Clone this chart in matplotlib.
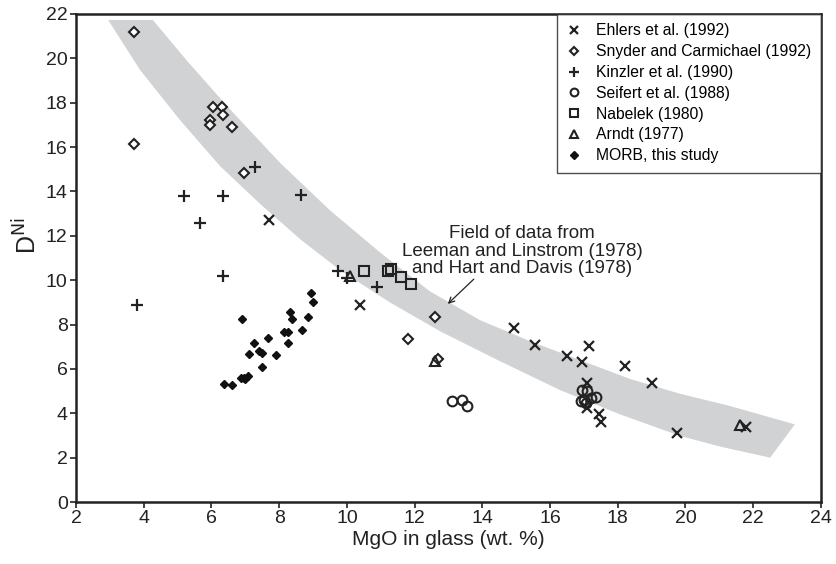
import matplotlib
matplotlib.use("Agg")
import matplotlib.pyplot as plt
from matplotlib.patches import Polygon

plt.rcParams['font.family'] = ['Liberation Sans', 'DejaVu Sans']

# Ehlers et al. (1992)
ehlers_x = [7.7, 10.4, 14.95, 15.55, 16.5, 17.15, 16.95, 17.1, 17.1, 17.45, 17.5, 18.2, 19.0, 19.75, 21.8]
ehlers_y = [12.7, 8.9, 7.85, 7.1, 6.6, 7.05, 6.3, 5.35, 4.25, 3.95, 3.6, 6.15, 5.35, 3.1, 3.4]

# Snyder and Carmichael (1992)
snyder_x = [3.7, 3.7, 6.05, 6.3, 6.35, 5.95, 5.95, 6.6, 6.95, 12.6, 11.8, 12.7]
snyder_y = [21.2, 16.15, 17.8, 17.8, 17.45, 17.2, 17.0, 16.9, 14.85, 8.35, 7.35, 6.45]

# Kinzler et al. (1990)
kinzler_x = [3.8, 5.2, 5.65, 6.35, 6.35, 7.3, 8.65, 9.75, 10.0, 10.9]
kinzler_y = [8.9, 13.8, 12.6, 13.8, 10.2, 15.1, 13.85, 10.4, 10.1, 9.7]

# Seifert et al. (1988)
seifert_x = [13.1, 13.4, 13.55, 16.9, 17.0, 16.95, 17.1, 17.2, 17.35, 17.05]
seifert_y = [4.55, 4.6, 4.35, 4.55, 4.6, 5.05, 5.0, 4.7, 4.75, 4.45]

# Nabelek (1980)
nabelek_x = [10.5, 11.2, 11.3, 11.6, 11.9]
nabelek_y = [10.4, 10.4, 10.5, 10.15, 9.85]

# Arndt (1977)
arndt_x = [10.1, 12.6, 21.6]
arndt_y = [10.2, 6.35, 3.45]

# MORB, this study
morb_x = [6.37, 6.6, 6.89, 6.86, 6.96, 7.07, 7.0, 7.12, 7.26, 7.41, 7.5, 7.49, 7.66,
          7.91, 8.13, 8.27, 8.25, 8.32, 8.37, 8.66, 8.85, 8.94, 9.0]
morb_y = [5.33, 5.27, 8.26, 5.6, 5.57, 5.68, 5.55, 6.67, 7.19, 6.82, 6.7, 6.09, 7.39,
          6.61, 7.66, 7.66, 7.16, 8.58, 8.24, 7.77, 8.36, 9.4, 9.0]

# field of data (Leeman and Linstrom 1978; Hart and Davis 1978)
field_upper_x = [4.27, 5.3, 6.55, 8.02, 9.5, 10.98, 12.45, 13.93, 15.41, 16.88, 18.36, 19.84, 21.31, 23.23]
field_upper_y = [21.73, 19.85, 17.7, 15.3, 13.15, 11.25, 9.5, 8.2, 7.25, 6.4, 5.55, 4.88, 4.33, 3.5]
field_lower_x = [2.95, 3.89, 5.07, 6.25, 7.43, 8.62, 9.8, 11.27, 12.75, 14.52, 16.29, 18.07, 19.84, 21.02, 22.5]
field_lower_y = [21.73, 19.48, 17.22, 15.15, 13.45, 11.85, 10.45, 9.0, 7.7, 6.35, 5.05, 3.95, 2.98, 2.5, 2.0]

ink = '#222222'

fig = plt.figure(figsize=(8.37, 5.64), dpi=100)
ax = fig.add_axes([0.0908, 0.1099, 0.89, 0.8653])

pts = list(zip(field_upper_x, field_upper_y)) + list(zip(field_lower_x[::-1], field_lower_y[::-1]))
ax.add_patch(Polygon(pts, closed=True, facecolor='#d1d2d4', edgecolor='none', zorder=1))

ax.plot(ehlers_x, ehlers_y, 'x', ms=7, mew=1.6, color=ink, label='Ehlers et al. (1992)', zorder=3)
ax.plot(snyder_x, snyder_y, 'D', ms=5, mew=1.5, mfc='white', color=ink,
        label='Snyder and Carmichael (1992)', zorder=3)
ax.plot(kinzler_x, kinzler_y, '+', ms=9, mew=1.6, color=ink, label='Kinzler et al. (1990)', zorder=3)
ax.plot(seifert_x, seifert_y, 'o', ms=7, mew=1.5, mfc='none', color=ink, label='Seifert et al. (1988)', zorder=3)
ax.plot(nabelek_x, nabelek_y, 's', ms=7, mew=1.5, mfc='none', color=ink, label='Nabelek (1980)', zorder=3)
ax.plot(arndt_x, arndt_y, '^', ms=7, mew=1.5, mfc='none', color=ink, label='Arndt (1977)', zorder=3)
ax.plot(morb_x, morb_y, 'D', ms=4.5, color='#111111', label='MORB, this study', zorder=3)

ax.set_xlim(2, 24)
ax.set_ylim(0, 22)
ax.set_xticks(range(2, 25, 2))
ax.set_yticks(range(0, 23, 2))
ax.tick_params(direction='out', length=4, width=1.2, labelsize=14, pad=2, colors=ink)
for s in ax.spines.values():
    s.set_linewidth(1.8)
    s.set_color(ink)

ax.set_xlabel('MgO in glass (wt. %)', fontsize=15, color=ink, labelpad=2)
ax.set_ylabel('D$^{\\mathrm{Ni}}$', fontsize=18, color=ink)
ax.yaxis.set_label_coords(-0.046, 0.545)

ax.text(15.17, 11.3, 'Field of data from\nLeeman and Linstrom (1978)\nand Hart and Davis (1978)',
        ha='center', va='center', fontsize=13.5, color=ink, linespacing=1.05, zorder=4)
ax.annotate('', xy=(12.98, 8.93), xytext=(13.75, 10.05),
            arrowprops=dict(arrowstyle='->', color=ink, lw=0.9, shrinkA=0, shrinkB=0))

leg = ax.legend(loc='upper right', bbox_to_anchor=(1.0, 1.0), borderaxespad=0, fontsize=11.3,
                frameon=True, fancybox=False, edgecolor=ink, borderpad=0.6, handlelength=1.0,
                handletextpad=0.9, labelspacing=0.37, markerscale=0.8, numpoints=1)
leg.get_frame().set_linewidth(1.0)
leg.set_zorder(5)

fig.savefig('out.png', dpi=100)
